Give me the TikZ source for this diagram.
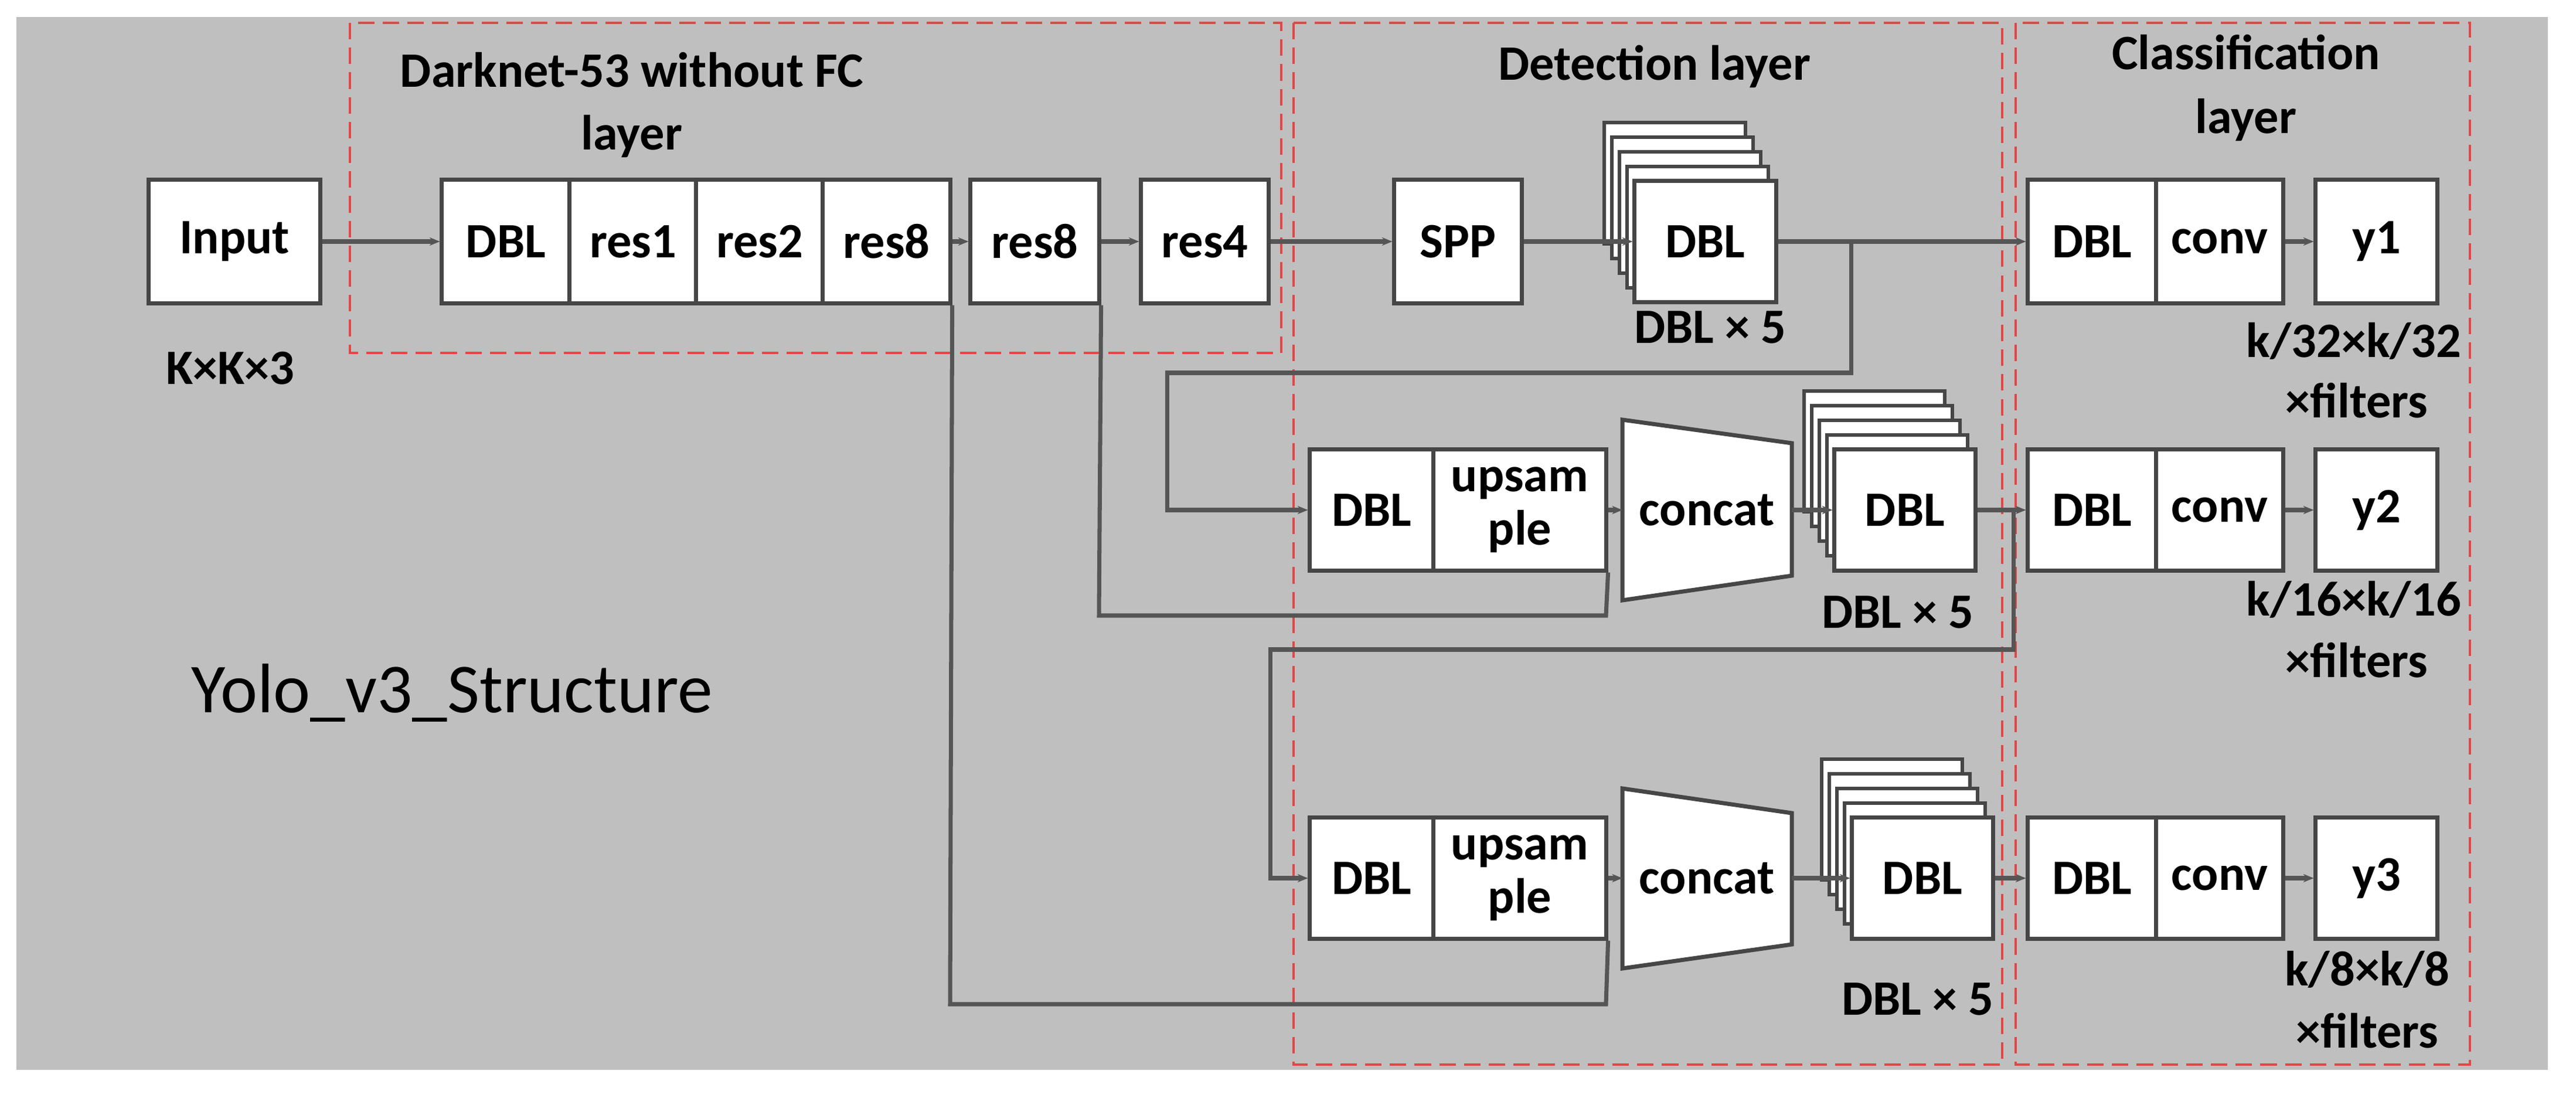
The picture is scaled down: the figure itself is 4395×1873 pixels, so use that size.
\documentclass[tikz,border=0pt]{standalone}
\usepackage{fontspec}
\setmainfont{Carlito}
\usetikzlibrary{arrows.meta}
\definecolor{bg}{RGB}{191,191,191}
\definecolor{bc}{RGB}{70,70,70}
\definecolor{lc}{RGB}{85,85,85}
\definecolor{rd}{RGB}{228,70,70}
\begin{document}
\begin{tikzpicture}[x=0.01cm,y=-0.01cm,
  box/.style={draw=bc,fill=white,line width=2pt,inner sep=0pt,font=\fontsize{24}{26}\selectfont\bfseries,minimum height=2.1cm},
  bk/.style={draw=bc,fill=white,line width=1.6pt},
  con/.style={draw=lc,line width=2pt,-{Stealth[length=5pt,width=4pt]}},
  ln/.style={draw=lc,line width=2pt},
  grp/.style={draw=rd,line width=1.2pt,dash pattern=on 8pt off 4pt},
  lbl/.style={font=\fontsize{24}{26}\selectfont\bfseries,anchor=base,inner sep=0pt}]
\useasboundingbox (0,0) rectangle (4395,1873);
\fill[bg] (28,29) rectangle (4347,1825);
% groups
\draw[grp] (597,39) rectangle (2186,602);
\draw[grp] (2207,39) rectangle (3416,1816);
\draw[grp] (3439,39) rectangle (4214,1816);
\node[lbl] (tdark) at (1078,149) {Darknet-53 without FC};
\node[lbl] (tdark2) at (1078,256) {layer};
\node[lbl] (tdet) at (2823,137) {Detection layer};
\node[lbl] (tcls) at (3832,119) {Classification};
\node[lbl] (tcls2) at (3832,228) {layer};
% row 1
\node[box,minimum width=2.93cm] (input) at (400,412) {Input};
\node[box,minimum width=2.18cm] (gdbl) at (863,412) {DBL};
\node[box,minimum width=2.16cm] (res1) at (1080,412) {res1};
\node[box,minimum width=2.16cm] (res2) at (1296,412) {res2};
\node[box,minimum width=2.17cm] (res8a) at (1512.5,412) {res8};
\node[box,minimum width=2.19cm] (res8b) at (1765.5,412) {res8};
\node[box,minimum width=2.17cm] (res4) at (2055.5,412) {res4};
\node[box,minimum width=2.17cm] (spp) at (2487.5,412) {SPP};
\foreach \k in {4,3,2,1}{\draw[bk] (2789-13*\k,309-25*\k) rectangle ++(241,207);}
\node[box,minimum width=2.41cm,minimum height=2.07cm] (s1) at (2909.5,412) {DBL};
\node[box,minimum width=2.19cm] (c1d) at (3569.5,412) {DBL};
\node[box,minimum width=2.16cm] (c1c) at (3787,412) {conv};
\node[box,minimum width=2.07cm] (y1) at (4054.5,412) {y1};
% row 2
\node[box,minimum width=2.11cm,minimum height=2.06cm] (d2) at (2340.5,870) {DBL};
\node[box,minimum width=2.94cm,minimum height=2.06cm,align=center] (u2) at (2593,870) {upsam\\ple};
\draw[bk,line width=2pt] (2768,716) -- (3057,756) -- (3057,982) -- (2768,1024) -- cycle;
\node[lbl,anchor=center] (cc2) at (2912,870) {concat};
\coordinate (cc2w) at (2768,870); \coordinate (cc2e) at (3057,870);
\foreach \k in {4,3,2,1}{\draw[bk] (3130-13*\k,767-25*\k) rectangle ++(240,206);}
\node[box,minimum width=2.4cm,minimum height=2.06cm] (s2) at (3250,870) {DBL};
\node[box,minimum width=2.19cm,minimum height=2.06cm] (c2d) at (3569.5,870) {DBL};
\node[box,minimum width=2.16cm,minimum height=2.06cm] (c2c) at (3787,870) {conv};
\node[box,minimum width=2.07cm,minimum height=2.06cm] (y2) at (4054.5,870) {y2};
% row 3
\node[box,minimum width=2.11cm,minimum height=2.06cm] (d3) at (2340.5,1498) {DBL};
\node[box,minimum width=2.94cm,minimum height=2.06cm,align=center] (u3) at (2593,1498) {upsam\\ple};
\draw[bk,line width=2pt] (2768,1345) -- (3057,1387) -- (3057,1611) -- (2768,1652) -- cycle;
\node[lbl,anchor=center] (cc3) at (2912,1498) {concat};
\coordinate (cc3w) at (2768,1498); \coordinate (cc3e) at (3057,1498);
\foreach \k in {4,3,2,1}{\draw[bk] (3160-13*\k,1395-25*\k) rectangle ++(240,206);}
\node[box,minimum width=2.4cm,minimum height=2.06cm] (s3) at (3280,1498) {DBL};
\node[box,minimum width=2.19cm,minimum height=2.06cm] (c3d) at (3569.5,1498) {DBL};
\node[box,minimum width=2.16cm,minimum height=2.06cm] (c3c) at (3787,1498) {conv};
\node[box,minimum width=2.07cm,minimum height=2.06cm] (y3) at (4054.5,1498) {y3};
% labels
\node[lbl] (kk3) at (393,656) {K×K×3};
\node[lbl] (x5a) at (2918,586) {DBL × 5};
\node[lbl] (x5b) at (3238,1071) {DBL × 5};
\node[lbl] (x5c) at (3272,1731) {DBL × 5};
\node[lbl] (o1a) at (4016,610) {k/32×k/32};
\node[lbl] (o1b) at (4021,712) {×filters};
\node[lbl] (o2a) at (4016,1050) {k/16×k/16};
\node[lbl] (o2b) at (4021,1155) {×filters};
\node[lbl] (o3a) at (4039,1681) {k/8×k/8};
\node[lbl] (o3b) at (4039,1787) {×filters};
\node[lbl,anchor=base west,font=\fontsize{34}{36}\selectfont] (title) at (326,1215) {Yolo\_v3\_Structure};
% connectors
\draw[con] (input) -- (gdbl);
\draw[con] (res8a) -- (res8b);
\draw[con] (res8b) -- (res4);
\draw[con] (res4) -- (spp);
\draw[con] (spp) -- (s1);
\draw[con] (s1) -- (c1d);
\draw[con] (c1c) -- (y1);
\draw[con] (c2c) -- (y2);
\draw[con] (c3c) -- (y3);
\coordinate (b1) at (3158,412);
\draw[con] (b1) -- (3158,636) -- (1991,636) -- (1991,870) -- (d2.west);
\draw[con] (u2.east) -- (cc2w);
\draw[con] (cc2e) -- (s2.west);
\draw[con] (s2) -- (c2d);
\coordinate (b2) at (3435,870);
\draw[con] (b2) -- (3435,1108) -- (2167,1108) -- (2167,1498) -- (d3.west);
\draw[con] (u3.east) -- (cc3w);
\draw[con] (cc3e) -- (s3.west);
\draw[con] (s3) -- (c3d);
\draw[ln] (res8b.south east) -- (1875,1050) -- (2740,1050) -- (u2.south east);
\draw[ln] (res8a.south east) -- (1621,1713) -- (2740,1713) -- (u3.south east);
\end{tikzpicture}
\end{document}
